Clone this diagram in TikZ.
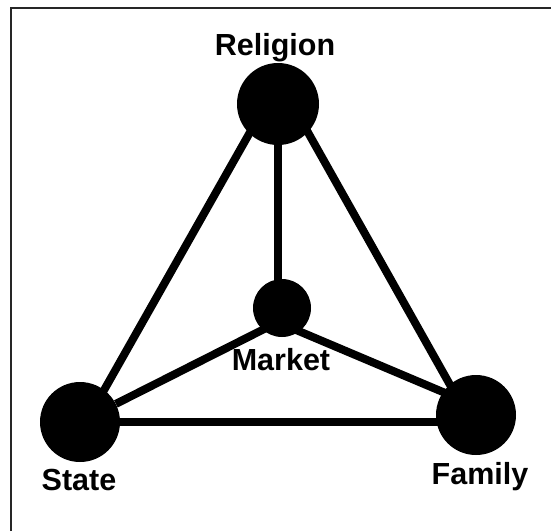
\documentclass[tikz,border=0pt]{standalone}
\usepackage{fontspec}
\setmainfont{Liberation Sans}
\usetikzlibrary{calc,backgrounds}
\tikzset{
  dot/.style={circle, fill=black, draw=none, inner sep=0pt},
  link/.style={line width=8pt, black},
  lbl/.style={anchor=base, inner sep=0pt, font=\fontsize{30.5}{36}\selectfont\bfseries},
  frame/.style={line width=2pt, black!85}
}
\begin{document}
\begin{tikzpicture}[x=1pt,y=-1pt]
\useasboundingbox (0,0) rectangle (551,531);
% frame (clipped at right and bottom)
\draw[frame] (11,531) -- (11,8) -- (551,8);
% nodes
\node[dot, minimum size=82pt] (rel) at (278,104) {};
\node[dot, minimum size=58pt] (mkt) at (282,308) {};
\node[dot, minimum size=80pt] (sta) at (80,422) {};
\node[dot, minimum size=80pt] (fam) at (476,415) {};
% labels
\node[lbl] (trel) at (275,55) {Religion};
\node[lbl] (tmkt) at (281,370) {Market};
\node[lbl] (tsta) at (79,490) {State};
\node[lbl] (tfam) at (480,484) {Family};
% connectors
\begin{pgfonlayer}{background}
\draw[link] ($(rel)+(-12,0)$) -- ($(sta)+(6,0)$);
\draw[link] ($(rel)+(14,0)$) -- ($(fam)+(-9,0)$);
\draw[link] (rel) -- (rel |- mkt);
\draw[link] ($(mkt)+(0,12)$) -- (sta);
\draw[link] ($(mkt)+(0,16)$) -- ($(fam)+(0,-9)$);
\draw[link] (sta) -- (sta -| fam);
\end{pgfonlayer}
\end{tikzpicture}
\end{document}
